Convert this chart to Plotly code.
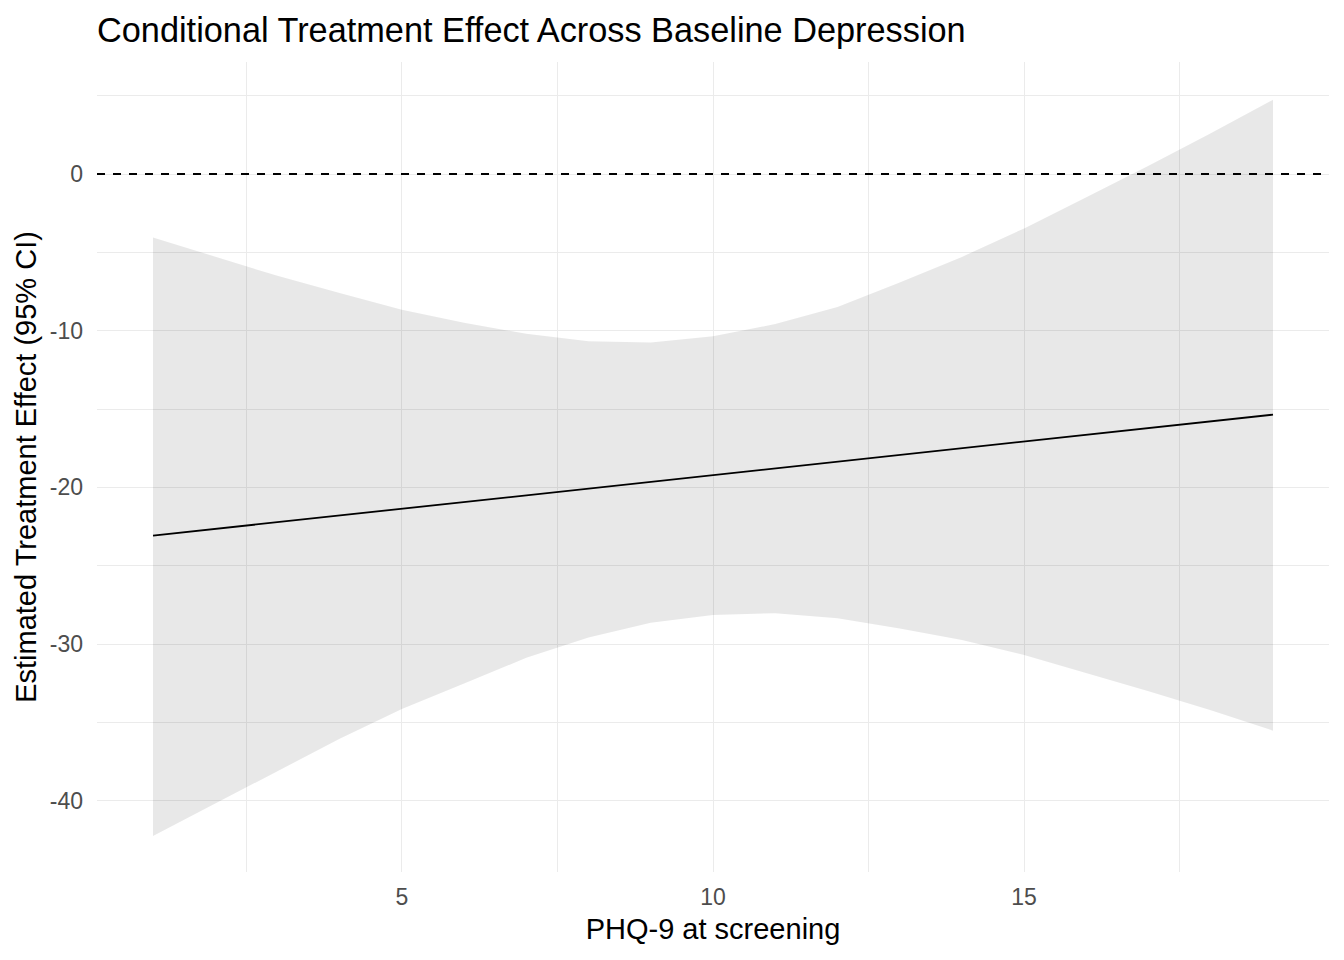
import plotly.graph_objects as go

# ---- data ----
band_x = [1, 2, 3, 4, 5, 6, 7, 8, 9, 10, 11, 12, 13, 14, 15, 16, 17, 18, 19]
upper = [-4.05, -5.29, -6.5, -7.6, -8.67, -9.5, -10.2, -10.68, -10.75, -10.36,
         -9.58, -8.48, -6.92, -5.29, -3.47, -1.48, 0.53, 2.6, 4.74]
lower = [-42.25, -40.15, -38.1, -36.05, -34.15, -32.52, -30.88, -29.59, -28.64, -28.15,
         -28.03, -28.35, -29.01, -29.75, -30.7, -31.85, -33.01, -34.23, -35.53]
effect_x = [1, 19]
effect_y = [-23.08, -15.36]
x_ticks = [5, 10, 15]
y_ticks = [-40, -30, -20, -10, 0]

title_text = "Conditional Treatment Effect Across Baseline Depression"
x_title = "PHQ-9 at screening"
y_title = "Estimated Treatment Effect (95% CI)"

FONT = "Liberation Sans, Arial, sans-serif"
GRID = "#ebebeb"

fig = go.Figure()

# confidence band (semi-transparent so grid shows through)
fig.add_trace(go.Scatter(
    x=band_x + band_x[::-1],
    y=upper + lower[::-1],
    fill="toself",
    fillcolor="rgba(0,0,0,0.09)",
    line=dict(width=0),
    mode="lines",
    hoverinfo="skip",
    showlegend=False,
))

# estimated effect line
fig.add_trace(go.Scatter(
    x=effect_x, y=effect_y, mode="lines",
    line=dict(color="black", width=1.8),
    showlegend=False,
))

# zero reference line
fig.add_shape(type="line", xref="paper", x0=0, x1=1, yref="y", y0=0, y1=0,
              line=dict(color="black", width=1.8, dash="8px,8px"), layer="above")

fig.update_layout(
    width=1344, height=960,
    margin=dict(l=89, r=23, t=54, b=96),
    paper_bgcolor="white", plot_bgcolor="white",
    font=dict(family=FONT, color="black"),
    title=dict(text=title_text, x=89 / 1344, xref="container", xanchor="left",
               y=1 - 22 / 960, yref="container", yanchor="middle",
               font=dict(size=34.3, color="black", family=FONT)),
    showlegend=False,
)

fig.update_xaxes(
    range=[0.1, 19.9],
    tickvals=x_ticks, ticktext=[str(v) for v in x_ticks],
    ticks="", showline=False, zeroline=False,
    showgrid=True, gridcolor=GRID, gridwidth=1.4,
    minor=dict(tick0=0, dtick=2.5, showgrid=True, gridcolor=GRID, gridwidth=0.8),
    tickfont=dict(size=23, color="#4d4d4d", family=FONT),
    ticklabelstandoff=9,
    title=dict(text=x_title, font=dict(size=29, color="black", family=FONT), standoff=9),
)
fig.update_yaxes(
    range=[-44.55, 7.15],
    tickvals=y_ticks, ticktext=[str(v) for v in y_ticks],
    ticks="", showline=False, zeroline=False,
    showgrid=True, gridcolor=GRID, gridwidth=1.4,
    minor=dict(tick0=0, dtick=5, showgrid=True, gridcolor=GRID, gridwidth=0.8),
    tickfont=dict(size=23, color="#4d4d4d", family=FONT),
    ticklabelstandoff=13,
    title=dict(text=y_title, font=dict(size=29, color="black", family=FONT), standoff=4),
)

fig.write_html("out.html")
